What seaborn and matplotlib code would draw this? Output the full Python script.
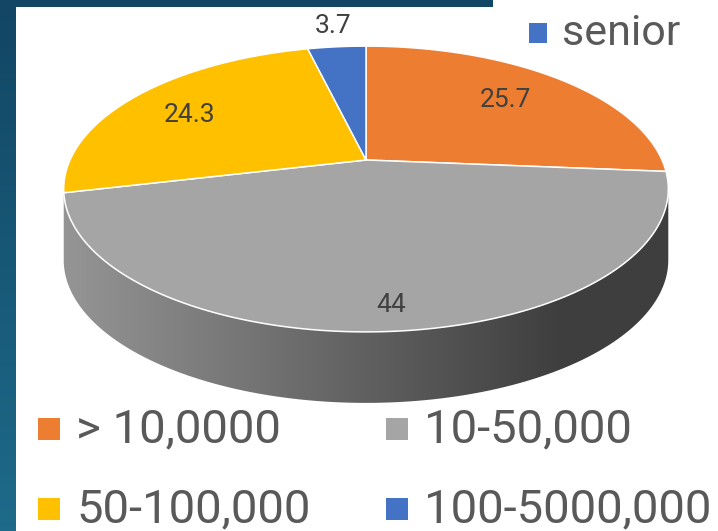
import numpy as np
import matplotlib
matplotlib.use('Agg')
import matplotlib.pyplot as plt
import seaborn as sns
from matplotlib.patches import Polygon, Rectangle
from matplotlib.colors import LinearSegmentedColormap, to_rgb

# data
categories = ['> 10,0000', '10-50,000', '50-100,000', '100-5000,000']
values = [25.7, 44, 24.3, 3.7]
value_labels = ['25.7', '44', '24.3', '3.7']
colors = ['#ED7D31', '#A5A5A5', '#FFC000', '#4472C4']
other_series = 'senior'

sns.set_theme(style='white')
plt.rcParams['font.family'] = ['Roboto', 'DejaVu Sans']

# layout in pixels (y goes down)
CX, CY = 366, 160          # where the slices meet
A, B, K = 296, 137, 0.203  # perspective of the tilted disc
DEPTH = 71
label_xy = [(505, 107), (391, 312), (190, 122), (333, 33)]
legend_xy = [(38, 418), (386, 418), (38, 498), (386, 498)]
txt_grey = '#595959'


def project(theta, r=1.0):
    t = np.radians(theta)
    u, v = r * np.cos(t), r * np.sin(t)
    w = 1 + K * v
    return np.column_stack([CX + A * u / w, CY - B * v / w])


fig = plt.figure(figsize=(7.18, 5.31), dpi=100)
ax = fig.add_axes([0, 0, 1, 1])

# let pie work out the slice angles, then draw them tilted
palette = sns.color_palette(colors)
wedges, _ = ax.pie(values, colors=palette, startangle=90, counterclock=False)
angles = [(w.theta1, w.theta2) for w in wedges]
for w in wedges:
    w.remove()

# slide background
bg_cmap = LinearSegmentedColormap.from_list('bg', ['#124664', '#1e6a8a'])
ax.imshow(np.linspace(0, 1, 100).reshape(-1, 1), cmap=bg_cmap,
          extent=[0, 718, 531, 0], aspect='auto', zorder=0)
ax.add_patch(Rectangle((16, 7), 702, 524, fc='white', ec='none', zorder=1))
ax.add_patch(Rectangle((493, 0), 225, 8, fc='white', ec='none', zorder=1))

# visible side of the cake, from one silhouette edge to the other
t_right = -np.degrees(np.arcsin(K))
t_left = -180 - t_right
xs = np.linspace(60, 672, 300)
shade = np.clip((xs - 65) / 495, 0, 1)[None, :]
for (t1, t2), col in zip(angles, palette):
    a, b = max(t1, t_left), min(t2, t_right)
    if b <= a:
        continue
    top = project(np.linspace(a, b, 120))
    bottom = top + [0, DEPTH]
    side = Polygon(np.vstack([top, bottom[::-1]]), fc='none', ec='none')
    ax.add_patch(side)
    c = np.array(to_rgb(col))
    cm = LinearSegmentedColormap.from_list('side', [c * 0.9, c * 0.38])
    im = ax.imshow(shade, cmap=cm, vmin=0, vmax=1, extent=[60, 672, 420, 140],
                   aspect='auto', zorder=2)
    im.set_clip_path(side)

# top faces
for (t1, t2), col in zip(angles, palette):
    arc = project(np.linspace(t1, t2, 200))
    pts = np.vstack([[CX, CY], arc])
    ax.add_patch(Polygon(pts, fc=col, ec='white', lw=1.1, zorder=3))

for lab, (x, y) in zip(value_labels, label_xy):
    ax.text(x, y, lab, fontsize=19, color='#404040', ha='center', va='baseline', zorder=4)

# legend
for name, col, (x, y) in zip(categories, palette, legend_xy):
    ax.add_patch(Rectangle((x, y), 22, 22, fc=col, ec='none', zorder=4))
    ax.text(x + 38, y + 24, name, fontsize=34, color=txt_grey, va='baseline', zorder=4)

ax.add_patch(Rectangle((529, 23), 18, 20, fc=palette[3], ec='none', zorder=4))
ax.text(562, 45, other_series, fontsize=31, color=txt_grey, va='baseline', zorder=4)

ax.set_xlim(0, 718)
ax.set_ylim(531, 0)
ax.set_aspect('auto')
ax.axis('off')

plt.savefig('out.png', dpi=100)
